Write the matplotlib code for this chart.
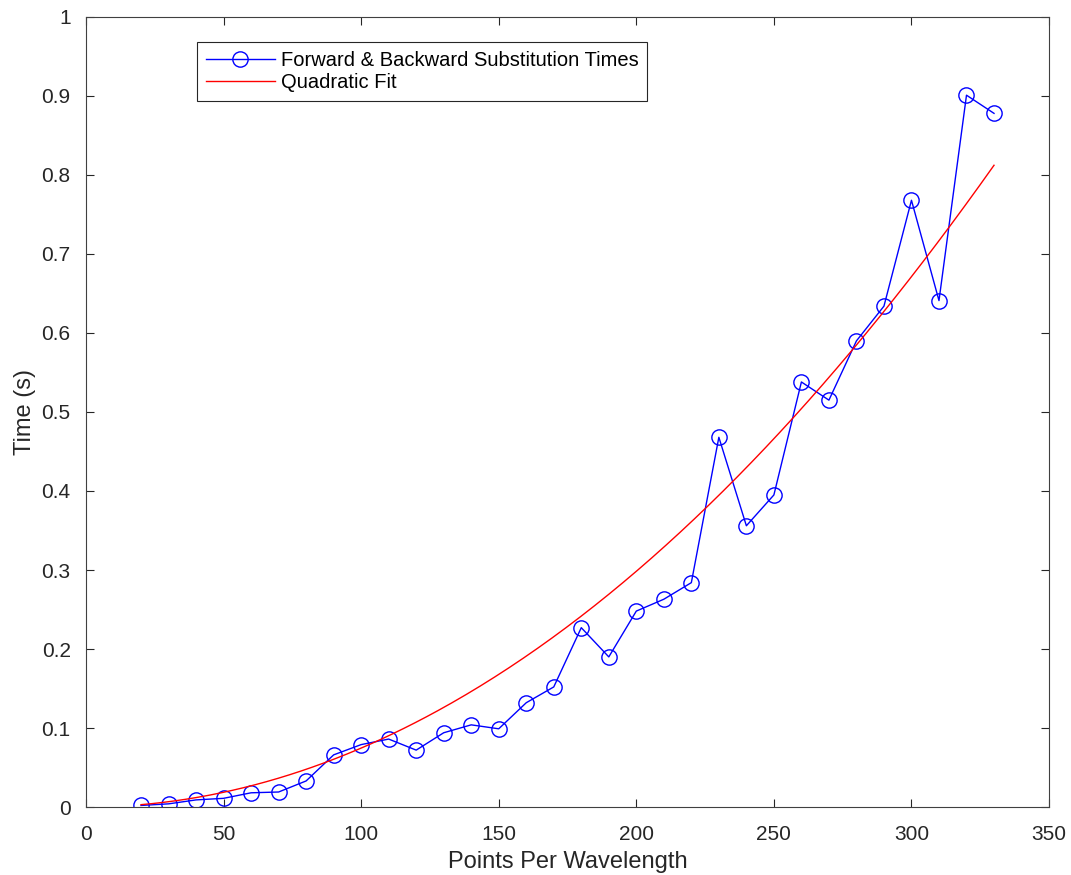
import matplotlib
matplotlib.use("Agg")
import matplotlib.pyplot as plt
import numpy as np

# points per wavelength and measured substitution times (s)
ppw = [20, 30, 40, 50, 60, 70, 80, 90, 100, 110, 120, 130, 140, 150, 160, 170,
       180, 190, 200, 210, 220, 230, 240, 250, 260, 270, 280, 290, 300, 310, 320, 330]
times = [0.002, 0.004, 0.009, 0.011, 0.018, 0.019, 0.033, 0.066, 0.079, 0.086, 0.072,
         0.094, 0.104, 0.099, 0.132, 0.152, 0.227, 0.190, 0.248, 0.263, 0.284, 0.468,
         0.356, 0.395, 0.538, 0.515, 0.590, 0.634, 0.768, 0.641, 0.901, 0.878]

# quadratic fit t = a*n^2 (least squares)
x = np.array(ppw, dtype=float)
y = np.array(times)
a = np.sum(x**2 * y) / np.sum(x**4)
xfit = np.linspace(ppw[0], ppw[-1], 300)
yfit = a * xfit**2

plt.rcParams['font.family'] = ['Liberation Sans', 'DejaVu Sans']

fig = plt.figure(figsize=(10.71, 8.75), dpi=100)
ax = fig.add_axes([0.0803, 0.0777, 0.8992, 0.9029])

ax.plot(ppw, times, '-o', color='#0000ff', lw=1.0, markersize=11,
        markerfacecolor='none', markeredgewidth=1.0,
        label='Forward & Backward Substitution Times')
ax.plot(xfit, yfit, '-', color='#ff0000', lw=1.0, label='Quadratic Fit')

ax.set_xlim(0, 350)
ax.set_ylim(0, 1)
ax.set_xticks(range(0, 351, 50))
ax.set_yticks(np.arange(0, 1.01, 0.1))
ax.set_yticklabels(['0', '0.1', '0.2', '0.3', '0.4', '0.5', '0.6', '0.7', '0.8', '0.9', '1'])

ax.tick_params(direction='in', length=6, width=0.8, colors='#262626', labelsize=15,
               top=True, right=True)
ax.tick_params(axis='y', pad=11)
ax.tick_params(axis='x', pad=13)
for s in ax.spines.values():
    s.set_color('#404040')
    s.set_linewidth(0.8)

ax.set_xlabel('Points Per Wavelength', fontsize=17, color='#262626', labelpad=5)
ax.set_ylabel('Time (s)', fontsize=17, color='#262626', labelpad=4)

leg = ax.legend(loc='upper left', bbox_to_anchor=(0.1153, 0.9683), fontsize=14.5,
                frameon=True, fancybox=False, edgecolor='#262626', framealpha=1,
                handlelength=3.4, borderpad=0.45, labelspacing=0.15,
                handletextpad=0.3, borderaxespad=0)
leg.get_frame().set_linewidth(0.8)

fig.savefig('out.png', dpi=100)
